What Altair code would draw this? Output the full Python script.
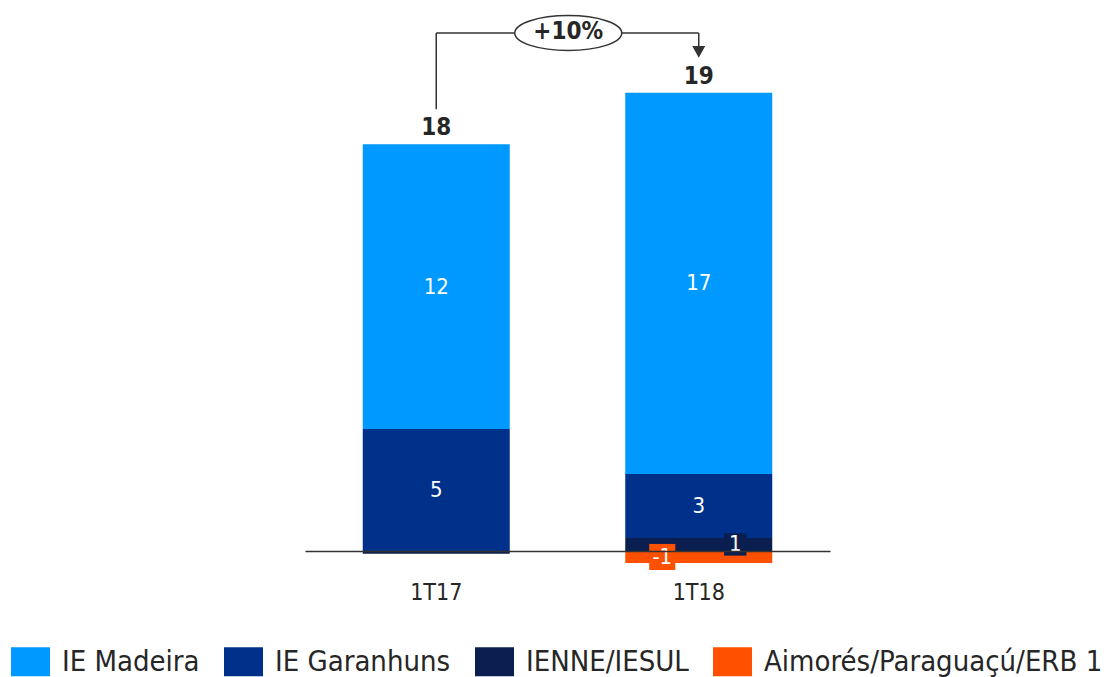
import altair as alt
import pandas as pd

# ---- data ----
categories = ["1T17", "1T18"]
series = ["IE Madeira", "IE Garanhuns", "IENNE/IESUL", "Aimorés/Paraguaçú/ERB 1"]
colors = ["#0099FF", "#00318A", "#0A1F50", "#FF5000"]
madeira = [12.39, 16.57]
garanhuns = [5.30, 2.78]
ienne = [-0.12, 0.57]
aimores = [0.0, -0.52]
stack_order = ["IENNE/IESUL", "IE Garanhuns", "IE Madeira", "Aimorés/Paraguaçú/ERB 1"]

FONT = "DejaVu Sans Condensed, DejaVu Sans"
TXT = "#262626"
LINE = "#333333"

values = {
    "IE Madeira": madeira,
    "IE Garanhuns": garanhuns,
    "IENNE/IESUL": ienne,
    "Aimorés/Paraguaçú/ERB 1": aimores,
}

rows = []
for i, c in enumerate(categories):
    pos, neg = 0.0, 0.0
    for s in stack_order:
        v = values[s][i]
        if v >= 0:
            lo, hi = pos, pos + v
            pos = hi
        else:
            lo, hi = neg + v, neg
            neg = lo
        lab = str(int(round(v))) if abs(v) >= 0.3 else ""
        rows.append({"cat": c, "series": s, "value": v, "lo": lo, "hi": hi,
                     "mid": (lo + hi) / 2, "label": lab,
                     "kind": "big" if abs(v) >= 1 else ("pos" if v > 0 else "neg")})
df = pd.DataFrame(rows)

tops = df[df.value > 0].groupby("cat")["hi"].max()
nets = df.groupby("cat")["value"].sum()
tot = pd.DataFrame({"cat": categories,
                    "top": [tops[c] for c in categories],
                    "label": [str(int(round(nets[c]))) for c in categories]})

change = nets[categories[1]] / nets[categories[0]] - 1
pct_text = f"+{change*100:.0f}%" if change >= 0 else f"{change*100:.0f}%"

gap = 1.52
bracket_y = max(tot.top) + 2.6
arrow_h = 0.52
vseg = pd.DataFrame({
    "cat": categories,
    "y1": [tot.top[0] + gap, tot.top[1] + gap + arrow_h],
    "y2": [bracket_y, bracket_y],
})
hseg = pd.DataFrame({"c1": [categories[0]], "c2": [categories[1]], "y": [bracket_y]})
arrow = pd.DataFrame({"cat": [categories[1]], "y": [tot.top[1] + gap + arrow_h / 2]})
pct = pd.DataFrame({"cat": [categories[0]], "y": [bracket_y], "label": [pct_text]})

# ---- layout ----
W, H = 1094, 669
x_scale = alt.Scale(domain=categories, range=[297, 822], paddingInner=0.44, paddingOuter=0.22)
y_scale = alt.Scale(domain=[-(H - 543) / 23, 543 / 23], range=[H, 0], nice=False, zero=False)
color_scale = alt.Scale(domain=series, range=colors)
half_step = 131

X = alt.X("cat:N", scale=x_scale, sort=categories,
          axis=alt.Axis(title=None, ticks=False, labelPadding=30, offset=-(H - 543),
                        labelFontSize=23, labelFont=FONT, labelColor=TXT,
                        domainColor=LINE, domainWidth=1.5, labelAngle=0, zindex=1))

bars = alt.Chart(df).mark_bar().encode(
    x=X,
    y=alt.Y("lo:Q", scale=y_scale, axis=None),
    y2="hi:Q",
    color=alt.Color("series:N", scale=color_scale, sort=series,
                    legend=alt.Legend(title=None)),
)

big = alt.Chart(df).transform_filter("datum.kind == 'big'").mark_text(
    color="white", font=FONT, fontSize=22, baseline="middle"
).encode(x=alt.X("cat:N", scale=x_scale), y=alt.Y("mid:Q", scale=y_scale), text="label:N")

box_pos = alt.Chart(df).transform_filter("datum.kind == 'pos' && datum.label != ''").mark_square(
    size=500, opacity=1, xOffset=36.5
).encode(x=alt.X("cat:N", scale=x_scale), y=alt.Y("mid:Q", scale=y_scale),
         color=alt.Color("series:N", scale=color_scale, legend=None))
box_neg = alt.Chart(df).transform_filter("datum.kind == 'neg' && datum.label != ''").mark_square(
    size=680, opacity=1, xOffset=-36.5
).encode(x=alt.X("cat:N", scale=x_scale), y=alt.Y("mid:Q", scale=y_scale),
         color=alt.Color("series:N", scale=color_scale, legend=None))
txt_pos = alt.Chart(df).transform_filter("datum.kind == 'pos' && datum.label != ''").mark_text(
    color="white", font=FONT, fontSize=22, baseline="middle", dx=36.5
).encode(x=alt.X("cat:N", scale=x_scale), y=alt.Y("mid:Q", scale=y_scale), text="label:N")
txt_neg = alt.Chart(df).transform_filter("datum.kind == 'neg' && datum.label != ''").mark_text(
    color="white", font=FONT, fontSize=22, baseline="middle", dx=-36.5
).encode(x=alt.X("cat:N", scale=x_scale), y=alt.Y("mid:Q", scale=y_scale), text="label:N")

totals = alt.Chart(tot).mark_text(
    color=TXT, font=FONT, fontSize=24, fontWeight="bold", baseline="alphabetic", dy=-9
).encode(x=alt.X("cat:N", scale=x_scale), y=alt.Y("top:Q", scale=y_scale), text="label:N")

vlines = alt.Chart(vseg).mark_rule(color=LINE, strokeWidth=1.5).encode(
    x=alt.X("cat:N", scale=x_scale), y=alt.Y("y1:Q", scale=y_scale), y2="y2:Q")
hline = alt.Chart(hseg).mark_rule(color=LINE, strokeWidth=1.5).encode(
    x=alt.X("c1:N", scale=x_scale), x2="c2:N", y=alt.Y("y:Q", scale=y_scale))
head = alt.Chart(arrow).mark_point(
    shape="M-1,-0.9L1,-0.9L0,0.9Z", size=169, filled=True, color=LINE, opacity=1
).encode(x=alt.X("cat:N", scale=x_scale), y=alt.Y("y:Q", scale=y_scale))
ellipse = alt.Chart(pct).mark_point(
    shape="M-1,0A1,0.327,0,1,0,1,0A1,0.327,0,1,0,-1,0Z", size=11449,
    filled=False, fill="white", fillOpacity=1, stroke=LINE, strokeWidth=1.5,
    opacity=1, xOffset=half_step + 1
).encode(x=alt.X("cat:N", scale=x_scale), y=alt.Y("y:Q", scale=y_scale))
pct_lbl = alt.Chart(pct).mark_text(
    color=TXT, font=FONT, fontSize=24, fontWeight="bold", baseline="middle",
    dx=half_step + 1, dy=-1
).encode(x=alt.X("cat:N", scale=x_scale), y=alt.Y("y:Q", scale=y_scale), text="label:N")

chart = alt.layer(
    bars, big, box_pos, box_neg, txt_pos, txt_neg, totals,
    vlines, hline, head, ellipse, pct_lbl
).properties(
    width=W, height=H, padding=0, autosize=alt.AutoSizeParams(type="none"),
    background="white"
).configure_view(strokeWidth=0).configure_legend(
    orient="none", legendX=3, legendY=634, direction="horizontal",
    symbolType="M-1,-0.744H1V0.744H-1Z", symbolSize=1521, symbolStrokeWidth=0,
    symbolOpacity=1, labelFont=FONT, labelFontSize=29, labelColor=TXT,
    labelOffset=12, columnPadding=24, padding=0, labelLimit=600
)

chart.save("out.html", embed_options={"renderer": "svg", "actions": False})
